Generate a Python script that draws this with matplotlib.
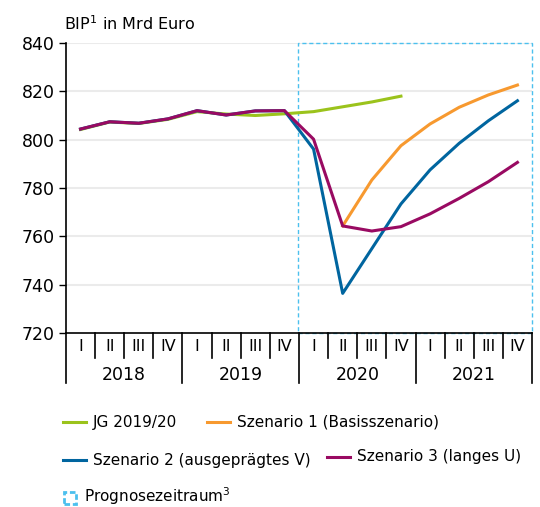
import numpy as np
import matplotlib.pyplot as plt
from matplotlib.lines import Line2D
from matplotlib.patches import Rectangle

plt.rcParams['font.family'] = ['DejaVu Sans']

quarters = ["I", "II", "III", "IV"] * 4
years = ["2018", "2019", "2020", "2021"]
nan = np.nan

jg = [804.2, 807.3, 806.7, 808.4, 811.6, 810.6, 810.0, 810.7,
      811.6, 813.6, 815.6, 818.0, nan, nan, nan, nan]
sz1 = [nan, nan, nan, nan, nan, nan, nan, nan,
       nan, 764.3, 783.3, 797.5, 806.5, 813.4, 818.5, 822.6]
sz2 = [804.4, 807.4, 806.8, 808.6, 812.0, 810.2, 811.9, 812.0,
       796.1, 736.4, 754.9, 773.4, 787.5, 798.5, 807.8, 816.1]
sz3 = [804.4, 807.4, 806.8, 808.6, 812.0, 810.2, 811.9, 812.0,
       800.2, 764.3, 762.2, 764.0, 769.3, 775.7, 782.6, 790.6]

series = [
    ("JG 2019/20", jg, "#9bc31c"),
    ("Szenario 1 (Basisszenario)", sz1, "#f7992f"),
    ("Szenario 2 (ausgeprägtes V)", sz2, "#00659f"),
    ("Szenario 3 (langes U)", sz3, "#990a62"),
]
forecast_start = 7.45
box_color = "#4cc0ee"

fig = plt.figure(figsize=(5.4, 5.07), dpi=100)
ax = fig.add_axes([0.1222, 0.3432, 0.8630, 0.5720])

x = np.arange(len(quarters))
for label, vals, color in series:
    ax.plot(x, vals, color=color, lw=2.2, solid_joinstyle="round", zorder=3)

ax.set_xlim(-0.5, 15.5)
ax.set_ylim(720, 840)
ax.set_yticks(np.arange(720, 841, 20))
ax.tick_params(axis="y", labelsize=12.5, length=5, width=1, direction="out", pad=3)
ax.set_xticks([])
for spine in ["top", "right"]:
    ax.spines[spine].set_visible(False)
ax.spines["left"].set_linewidth(1.2)
ax.spines["bottom"].set_linewidth(1.2)
for yv in np.arange(740, 841, 20):
    ax.axhline(yv, color="#ebebeb", lw=1.5, zorder=0)

# forecast box
ax.add_patch(Rectangle((forecast_start, 720), 15.5 - forecast_start, 120,
                       fill=False, ls=(0, (3, 2)), lw=1, edgecolor=box_color,
                       zorder=2, clip_on=False))

# category table below the axis
trans = ax.get_xaxis_transform()
for i in range(len(quarters) + 1):
    bottom = -0.172 if i % 4 == 0 else -0.086
    ax.plot([i - 0.5, i - 0.5], [0, bottom], color="black", lw=1.2,
            transform=trans, clip_on=False)
for i, q in enumerate(quarters):
    ax.text(i, -0.045, q, transform=trans, ha="center", va="center", fontsize=11.5)
for j, yr in enumerate(years):
    ax.text(j * 4 + 1.5, -0.145, yr, transform=trans, ha="center", va="center",
            fontsize=12.5)

fig.text(64 / 540, 1 - 24 / 507, "BIP$^1$ in Mrd Euro", fontsize=11.5,
         va="center", ha="left")

# legend
W, H = 540, 507
legend_pos = [(63, 422), (207, 422), (63, 460), (327, 456.5)]
for (label, vals, color), (lx, ly) in zip(series, legend_pos):
    fig.add_artist(Line2D([lx / W, (lx + 23) / W], [1 - ly / H, 1 - ly / H],
                          color=color, lw=2.2, transform=fig.transFigure))
    fig.text((lx + 30) / W, 1 - ly / H, label, fontsize=11, va="center", ha="left")

fig.add_artist(Rectangle((64 / W, 1 - 504 / H), 12 / W, 12 / H, fill=False,
                         ls=(0, (2, 1)), lw=2, edgecolor=box_color,
                         transform=fig.transFigure))
fig.text(84 / W, 1 - 502 / H, "Prognosezeitraum$^3$", fontsize=11,
         va="baseline", ha="left")

fig.savefig("out.png", dpi=100)
